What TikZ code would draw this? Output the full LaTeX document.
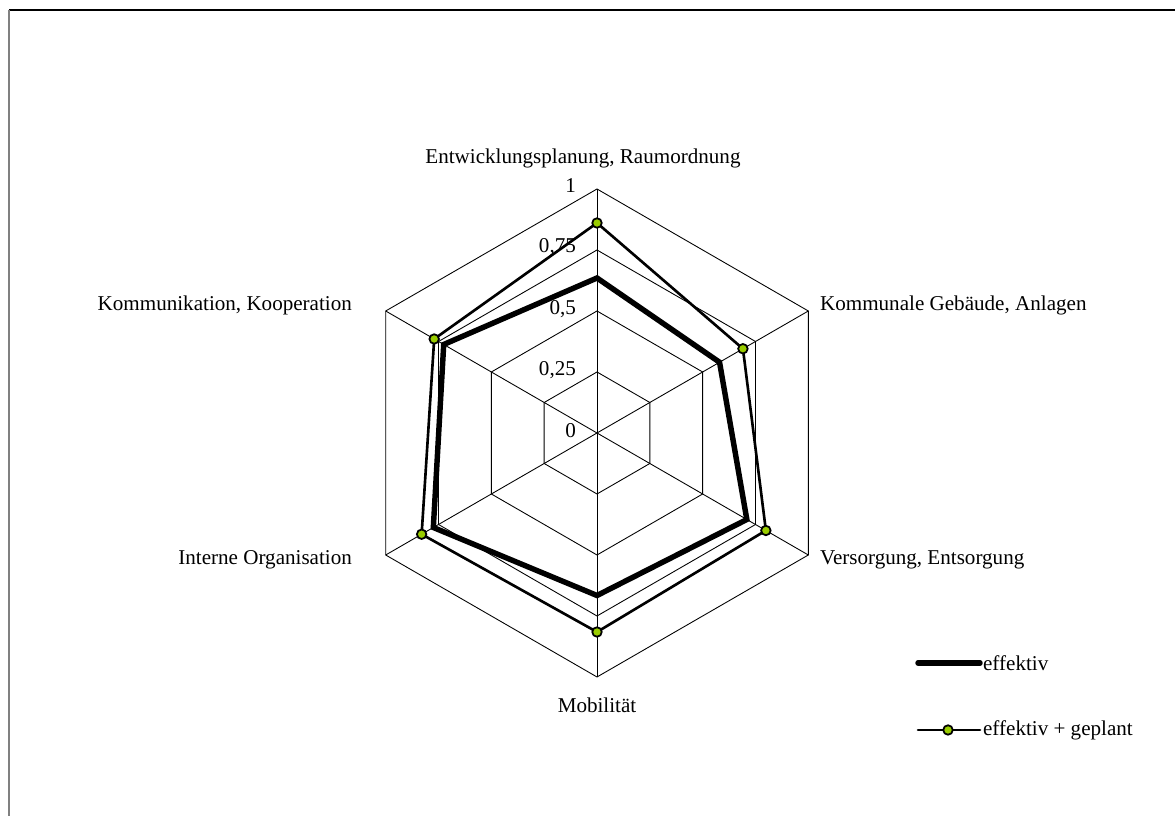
\documentclass[tikz,border=0pt]{standalone}
\usepackage{fontspec}
\setmainfont{Liberation Serif}
\usepackage{tikz}
\usetikzlibrary{positioning}
\definecolor{dotgreen}{RGB}{153,204,0}
\tikzset{
    gridline/.style={draw=black,line width=0.5pt},
    effektiv/.style={draw=black,line width=3.1pt,line join=miter},
    geplant/.style={draw=black,line width=1.5pt,line join=miter},
    marker/.style={circle,draw=black,fill=dotgreen,line width=1pt,minimum size=0.19cm,inner sep=0pt},
    axislabel/.style={font=\fontsize{12}{14}\selectfont,inner sep=1pt},
    ticklabel/.style={font=\fontsize{12}{14}\selectfont,inner sep=1pt,anchor=east},
}

\begin{document}
\begin{tikzpicture}
		\useasboundingbox (0,0) rectangle (23.5,16.32);
		% frame
		\draw[black,line width=0.6pt] (0.18,16.12) -- (23.5,16.12);
		\draw[gray,line width=1.1pt] (0.18,16.12) -- (0.18,0);
		\coordinate (M) at (11.94,7.66);

		\begin{scope}[shift={(M)}]
		% rings and spokes
		\draw[gridline] (90:1.22) -- (30:1.22) -- (-30:1.22) -- (-90:1.22) -- (-150:1.22) -- (150:1.22) -- cycle;
		\draw[gridline] (90:2.44) -- (30:2.44) -- (-30:2.44) -- (-90:2.44) -- (-150:2.44) -- (150:2.44) -- cycle;
		\draw[gridline] (90:3.66) -- (30:3.66) -- (-30:3.66) -- (-90:3.66) -- (-150:3.66) -- (150:3.66) -- cycle;
		\draw[gridline] (90:4.88) -- (30:4.88) -- (-30:4.88) -- (-90:4.88) -- (-150:4.88) -- (150:4.88) -- cycle;
		\draw[gridline] (90:4.88) -- (-90:4.88);
		\draw[gridline] (30:4.88) -- (-150:4.88);
		\draw[gridline] (-30:4.88) -- (150:4.88);

		% scale
		\node[ticklabel] (t0) at (-0.38,0.04) {0};
		\node[ticklabel] (t1) at (-0.38,1.26) {0,25};
		\node[ticklabel] (t2) at (-0.38,2.48) {0,5};
		\node[ticklabel] (t3) at (-0.38,3.72) {0,75};
		\node[ticklabel] (t4) at (-0.38,4.94) {1};

		% effektiv
		\coordinate (e1) at (90:3.10);
		\coordinate (e2) at (30:2.83);
		\coordinate (e3) at (-30:3.46);
		\coordinate (e4) at (-90:3.25);
		\coordinate (e5) at (-150:3.78);
		\coordinate (e6) at (150:3.54);
		\draw[effektiv] (e1) -- (e2) -- (e3) -- (e4) -- (e5) -- (e6) -- cycle;

		% effektiv + geplant
		\coordinate (g1) at (90:4.20);
		\coordinate (g2) at (30:3.37);
		\coordinate (g3) at (-30:3.90);
		\coordinate (g4) at (-90:3.98);
		\coordinate (g5) at (-150:4.05);
		\coordinate (g6) at (150:3.76);
		\draw[geplant] (g1) -- (g2) -- (g3) -- (g4) -- (g5) -- (g6) -- cycle;
		\node[marker] (m1) at (g1) {};
		\node[marker] (m2) at (g2) {};
		\node[marker] (m3) at (g3) {};
		\node[marker] (m4) at (g4) {};
		\node[marker] (m5) at (g5) {};
		\node[marker] (m6) at (g6) {};
		\end{scope}

		% axis labels
		\node[axislabel] (planung) at (11.66,13.16) {Entwicklungsplanung, Raumordnung};
		\node[axislabel,anchor=west] (gebaeude) at (16.36,10.22) {Kommunale Gebäude, Anlagen};
		\node[axislabel,anchor=west] (versorgung) at (16.36,5.12) {Versorgung, Entsorgung};
		\node[axislabel] (mobilitaet) at (11.94,2.22) {Mobilität};
		\node[axislabel,anchor=east] (intern) at (7.08,5.12) {Interne Organisation};
		\node[axislabel,anchor=east] (kommunikation) at (7.08,10.22) {Kommunikation, Kooperation};

		% legend
		\coordinate (l1a) at (18.36,3.06);
		\coordinate (l1b) at (19.6,3.06);
		\draw[effektiv,line cap=round] (l1a) -- (l1b);
		\node[axislabel,anchor=west] (leg1) at (19.62,3.06) {effektiv};
		\coordinate (l2a) at (18.36,1.72);
		\coordinate (l2b) at (19.6,1.72);
		\draw[geplant,line cap=round] (l2a) -- (l2b);
		\node[marker] (lm) at (18.96,1.72) {};
		\node[axislabel,anchor=west] (leg2) at (19.62,1.72) {effektiv + geplant};
	\end{tikzpicture}
\end{document}
